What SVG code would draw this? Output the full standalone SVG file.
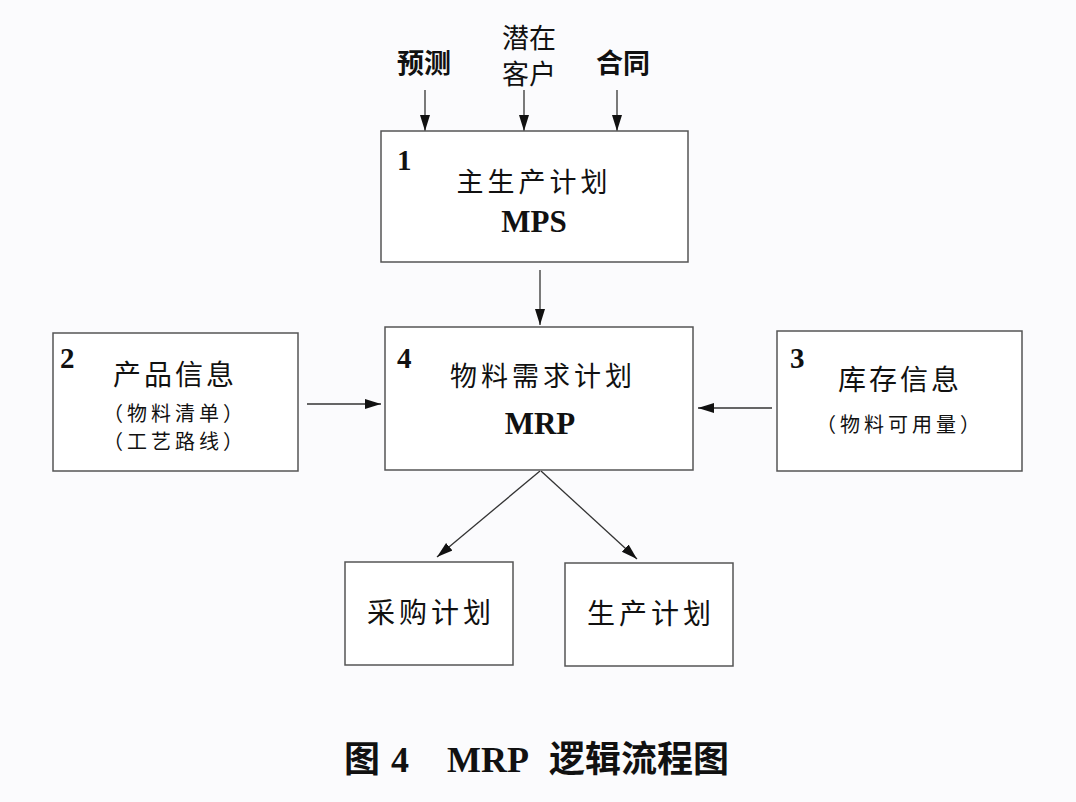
<svg xmlns="http://www.w3.org/2000/svg" width="1076" height="802" viewBox="0 0 1076 802">
<defs>
<style>
.box{fill:#fff;stroke:#555;stroke-width:1.5}
.cn{font-family:"Noto Sans CJK SC",sans-serif;fill:#111;text-anchor:middle}
.num{font-family:"Liberation Serif",serif;font-weight:bold;fill:#111;font-size:29px}
.en{font-family:"Liberation Serif",serif;font-weight:bold;fill:#111;text-anchor:middle;font-size:31px}
.ln{stroke:#333;stroke-width:1.3;fill:none;marker-end:url(#ah)}
.cap{font-family:"Liberation Serif","Noto Sans CJK SC",serif;font-weight:bold;font-size:36px;fill:#111}
</style>
<marker id="ah" viewBox="0 0 16 12" refX="16" refY="6" markerWidth="16" markerHeight="12" markerUnits="userSpaceOnUse" orient="auto">
<path d="M0,1 L16,6 L0,11 Z" fill="#111"/>
</marker>
</defs>
<rect width="1076" height="802" fill="#fbfbfd"/>
<g id="inputs">
<text class="cn" x="424" y="73" font-size="27" font-weight="bold">预测</text>
<text class="cn" x="529" y="48" font-size="27">潜在</text>
<text class="cn" x="529" y="84" font-size="27">客户</text>
<text class="cn" x="623" y="73" font-size="27" font-weight="bold">合同</text>
</g>
<g id="connectors">
<line class="ln" x1="425" y1="90" x2="425" y2="131"/>
<line class="ln" x1="524" y1="90" x2="524" y2="131"/>
<line class="ln" x1="617" y1="90" x2="617" y2="131"/>
<line class="ln" x1="540" y1="270" x2="540" y2="325"/>
<line class="ln" x1="307" y1="404" x2="381" y2="404"/>
<line class="ln" x1="772" y1="408" x2="698" y2="408"/>
<line class="ln" x1="540" y1="471" x2="437" y2="557"/>
<line class="ln" x1="541" y1="471" x2="637" y2="559"/>
</g>
<g id="n1">
<rect class="box" x="381" y="131" width="307" height="131"/>
<text class="num" x="397" y="170">1</text>
<text class="cn" x="534" y="192" font-size="27" letter-spacing="4">主生产计划</text>
<text class="en" x="534" y="232">MPS</text>
</g>
<g id="n2">
<rect class="box" x="53" y="333" width="245" height="138"/>
<text class="num" x="60" y="368">2</text>
<text class="cn" x="175" y="385" font-size="28" letter-spacing="3">产品信息</text>
<text class="cn" x="175" y="421" font-size="20" letter-spacing="4">（物料清单）</text>
<text class="cn" x="175" y="449" font-size="20" letter-spacing="4">（工艺路线）</text>
</g>
<g id="n4">
<rect class="box" x="385" y="327" width="308" height="143"/>
<text class="num" x="397" y="368">4</text>
<text class="cn" x="543" y="386" font-size="27" letter-spacing="4">物料需求计划</text>
<text class="en" x="540" y="434">MRP</text>
</g>
<g id="n3">
<rect class="box" x="777" y="331" width="245" height="140"/>
<text class="num" x="790" y="368">3</text>
<text class="cn" x="900" y="390" font-size="28" letter-spacing="3">库存信息</text>
<text class="cn" x="900" y="432" font-size="20" letter-spacing="4">（物料可用量）</text>
</g>
<g id="n5">
<rect class="box" x="345" y="562" width="168" height="103"/>
<text class="cn" x="431" y="623" font-size="28" letter-spacing="4">采购计划</text>
</g>
<g id="n6">
<rect class="box" x="565" y="563" width="168" height="103"/>
<text class="cn" x="651" y="624" font-size="28" letter-spacing="4">生产计划</text>
</g>
<g id="caption">
<text class="cap" y="772"><tspan x="344">图</tspan><tspan x="391">4</tspan><tspan x="447">MRP</tspan><tspan x="549">逻辑流程图</tspan></text>
</g>
</svg>
